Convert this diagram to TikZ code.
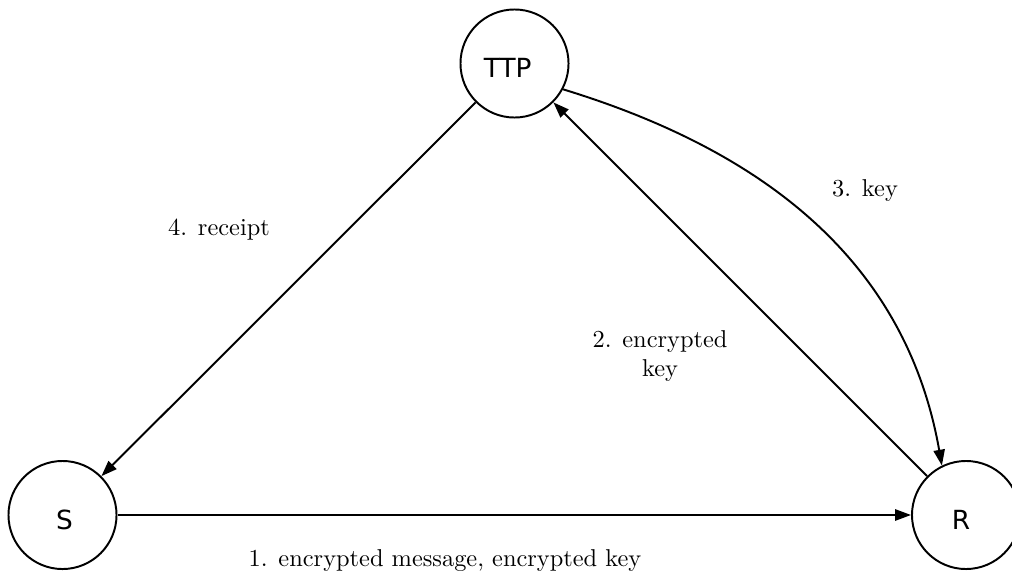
\documentclass[tikz,border=0pt]{standalone}
\usepackage{fontspec}
\newfontfamily\nodefont{DejaVu Sans}
\usetikzlibrary{arrows.meta}
\begin{document}
\begin{tikzpicture}[x=0.41pt,y=-0.41pt,
  party/.style={circle,draw,line width=0.8pt,minimum size=44.3pt,inner sep=0pt},
  ptext/.style={inner sep=0pt,font=\nodefont\fontsize{10.8}{13}\selectfont},
  conn/.style={line width=0.8pt,-{Triangle[length=6.5pt,width=4.6pt]}},
  lbl/.style={inner sep=0pt,font=\normalsize}]
\useasboundingbox (0,0) rectangle (1012,576);
\node[party,label={[ptext,xshift=-2.8pt,yshift=-2pt]center:TTP}] (TTP) at (514.5,63.5) {};
\node[party,label={[ptext,xshift=0.8pt,yshift=-2pt]center:S}] (S) at (62.5,515) {};
\node[party,label={[ptext,xshift=-2pt,yshift=-2pt]center:R}] (R) at (966,515) {};
\draw[conn] (S) -- (R);
\draw[conn] (R) -- (TTP);
\draw[conn] (TTP.-28) to[out=-17,in=100] (R.116);
\draw[conn] (TTP) -- (S);
\node[lbl,anchor=base] (l1) at (445,566.5) {1. encrypted message, encrypted key};
\node[lbl,align=center] (l2) at (660,356.3) {2. encrypted\\key};
\node[lbl,anchor=base] (l3) at (865,196) {3. key};
\node[lbl,anchor=base] (l4) at (219,235.5) {4. receipt};
\end{tikzpicture}
\end{document}
